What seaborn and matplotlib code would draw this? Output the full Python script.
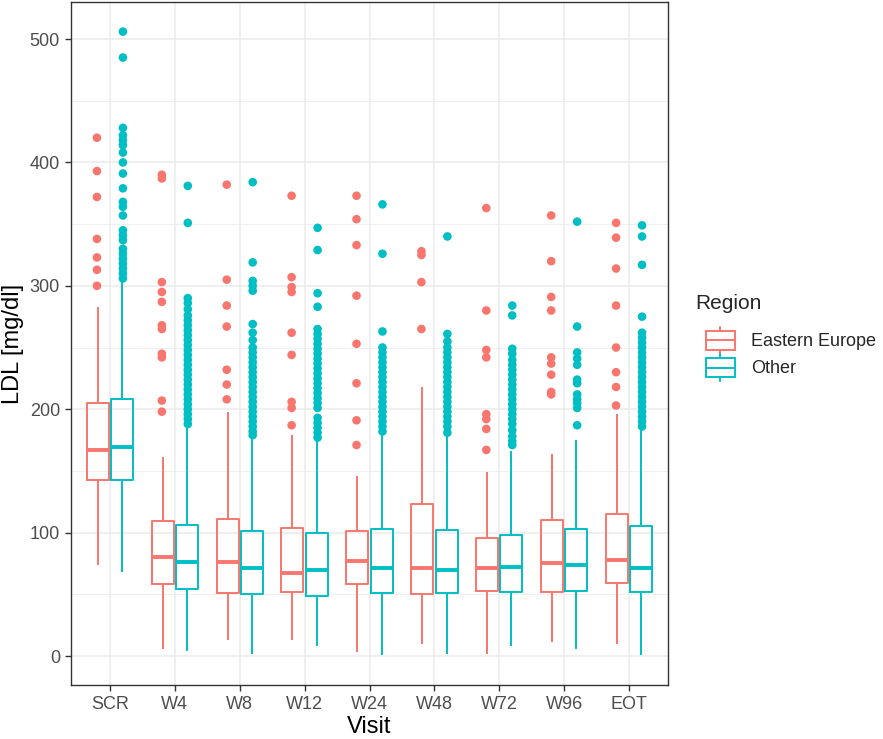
import pandas as pd
import matplotlib
matplotlib.use("Agg")
import matplotlib.pyplot as plt
import seaborn as sns
from matplotlib.ticker import MultipleLocator
from matplotlib.patches import Rectangle, Patch
from matplotlib.lines import Line2D
from matplotlib.legend_handler import HandlerBase

# Visits and regions
visits = ["SCR", "W4", "W8", "W12", "W24", "W48", "W72", "W96", "EOT"]
regions = ["Eastern Europe", "Other"]
palette = {"Eastern Europe": "#F8766D", "Other": "#00BFC4"}

# Box statistics (whisker low, Q1, median, Q3, whisker high)
ee_low = [74, 6, 13, 13, 3, 10, 1.5, 11, 10]
ee_q1 = [143, 58, 51, 52, 58, 50, 53, 52, 59]
ee_med = [167, 80, 76, 67, 77, 71, 71, 75, 78]
ee_q3 = [205, 109, 111, 104, 101, 123, 96, 110, 115]
ee_high = [283, 161, 198, 179, 146, 218, 149, 164, 196]

ot_low = [68, 4, 2, 8, 1, 2, 8, 6, 1]
ot_q1 = [143, 54, 50, 49, 51, 51, 52, 53, 52]
ot_med = [169, 76, 71, 70, 71, 70, 72, 74, 71]
ot_q3 = [208, 106, 101, 100, 103, 102, 98, 103, 105]
ot_high = [303, 186, 177, 175, 180, 179, 166, 175, 183]

# Outliers per visit
ee_outliers = [
    [420, 393, 372, 338, 323, 313, 300],
    [390, 387, 303, 295, 287, 268, 265, 245, 242, 207, 198],
    [382, 305, 284, 267, 232, 220, 208],
    [373, 307, 299, 295, 262, 244, 206, 201, 187],
    [373, 354, 333, 292, 253, 221, 191, 171],
    [328, 325, 303, 265],
    [363, 280, 248, 242, 196, 192, 184, 167],
    [357, 320, 291, 280, 242, 237, 228, 214, 212],
    [351, 339, 314, 284, 250, 230, 218, 203],
]
ot_outliers = [
    [506, 485, 428, 422, 418, 414, 408, 400, 391, 379, 368, 364, 357, 345,
     341, 337, 330, 326, 322, 318, 314, 310, 306],
    [381, 351, 290, 286, 281, 276, 272, 268, 264, 260, 256, 252, 248, 244,
     240, 236, 232, 228, 224, 220, 216, 212, 208, 204, 200, 196, 192, 188],
    [384, 319, 304, 300, 296, 269, 262, 256, 250, 246, 242, 238, 234, 230,
     226, 222, 218, 214, 210, 206, 202, 198, 194, 190, 186, 182, 179],
    [347, 329, 294, 283, 265, 261, 257, 253, 249, 245, 241, 237, 233, 229,
     225, 221, 217, 213, 209, 205, 201, 193, 189, 185, 181, 177],
    [366, 326, 263, 250, 246, 242, 238, 234, 230, 226, 222, 218, 214, 210,
     206, 202, 198, 194, 190, 186, 182],
    [340, 261, 255, 250, 246, 242, 238, 234, 230, 226, 222, 218, 214, 210,
     206, 202, 198, 194, 190, 186, 181],
    [284, 276, 249, 245, 240, 236, 232, 228, 224, 220, 216, 212, 208, 204,
     200, 196, 192, 188, 183, 178, 174, 171],
    [352, 267, 246, 241, 236, 224, 221, 212, 208, 205, 201, 187],
    [349, 340, 317, 275, 262, 258, 254, 250, 246, 242, 238, 234, 230, 226,
     222, 218, 214, 210, 206, 202, 198, 194, 190, 186],
]

# Long tables for seaborn
box_rows = []
out_rows = []
for i, v in enumerate(visits):
    for val in [ee_low[i], ee_q1[i], ee_med[i], ee_q3[i], ee_high[i]]:
        box_rows.append((v, "Eastern Europe", val))
    for val in [ot_low[i], ot_q1[i], ot_med[i], ot_q3[i], ot_high[i]]:
        box_rows.append((v, "Other", val))
    for val in ee_outliers[i]:
        out_rows.append((v, "Eastern Europe", val))
    for val in ot_outliers[i]:
        out_rows.append((v, "Other", val))
df_box = pd.DataFrame(box_rows, columns=["Visit", "Region", "LDL"])
df_out = pd.DataFrame(out_rows, columns=["Visit", "Region", "LDL"])


class BoxKey(HandlerBase):
    """Legend key drawn as a small boxplot glyph, like ggplot."""
    def create_artists(self, legend, orig_handle, xdescent, ydescent,
                       width, height, fontsize, trans):
        c = orig_handle.get_edgecolor()
        x0 = -xdescent + width * 0.28
        w = width * 0.72
        y0 = -ydescent
        rect = Rectangle((x0, y0 + 0.16 * height), w, 0.68 * height,
                         fill=False, edgecolor=c, lw=1.4, transform=trans)
        med = Line2D([x0, x0 + w], [y0 + 0.5 * height] * 2, color=c, lw=1.4, transform=trans)
        wt = Line2D([x0 + w / 2] * 2, [y0 + 0.84 * height, y0 + height], color=c, lw=1.4, transform=trans)
        wb = Line2D([x0 + w / 2] * 2, [y0, y0 + 0.16 * height], color=c, lw=1.4, transform=trans)
        return [rect, med, wt, wb]


sns.set_theme(style="white")
plt.rcParams["font.family"] = ["Liberation Sans", "DejaVu Sans"]

fig = plt.figure(figsize=(8.83, 7.39), dpi=100)
ax = fig.add_axes([71 / 883, 54 / 739, 597 / 883, 683 / 739])

sns.boxplot(data=df_box, x="Visit", y="LDL", hue="Region", order=visits,
            hue_order=regions, palette=palette, fill=False, width=0.75, gap=0.1,
            whis=(0, 100), showfliers=False, showcaps=False, linewidth=1.4,
            medianprops={"linewidth": 2.8}, legend=False, ax=ax)
sns.stripplot(data=df_out, x="Visit", y="LDL", hue="Region", order=visits,
              hue_order=regions, palette=palette, dodge=True, jitter=False,
              size=6.2, linewidth=0, legend=False, ax=ax)

ax.set_xlim(-0.6, 8.6)
ax.set_ylim(-23.5, 530)
ax.yaxis.set_major_locator(MultipleLocator(100))
ax.yaxis.set_minor_locator(MultipleLocator(50))
ax.set_axisbelow(True)
ax.grid(which="major", color="#EBEBEB", linewidth=1.1)
ax.grid(which="minor", axis="y", color="#EBEBEB", linewidth=0.55)

for s in ax.spines.values():
    s.set_color("#333333")
    s.set_linewidth(1.0)
ax.tick_params(which="major", length=4.3, width=1.0, color="#333333",
               labelsize=13, labelcolor="#4D4D4D", pad=3.6,
               bottom=True, left=True)
ax.tick_params(which="minor", length=0)

ax.set_xlabel("Visit", fontsize=17, color="black", labelpad=2.5)
ax.set_ylabel("LDL [mg/dl]", fontsize=17, color="black", labelpad=4)

handles = [Patch(facecolor="none", edgecolor=palette[r]) for r in regions]
leg = fig.legend(handles, regions, title="Region", loc="upper left",
                 bbox_to_anchor=(686 / 883, 1 - 285 / 739), frameon=False,
                 fontsize=13, title_fontsize=15, handlelength=2.2,
                 handleheight=1.93, handletextpad=0.9, labelspacing=0.0,
                 borderpad=0, alignment="left",
                 handler_map={Patch: BoxKey()})
# a bit more room between the title and the keys, as in ggplot
leg._legend_box.sep = 10

fig.savefig("out.png", dpi=100)
